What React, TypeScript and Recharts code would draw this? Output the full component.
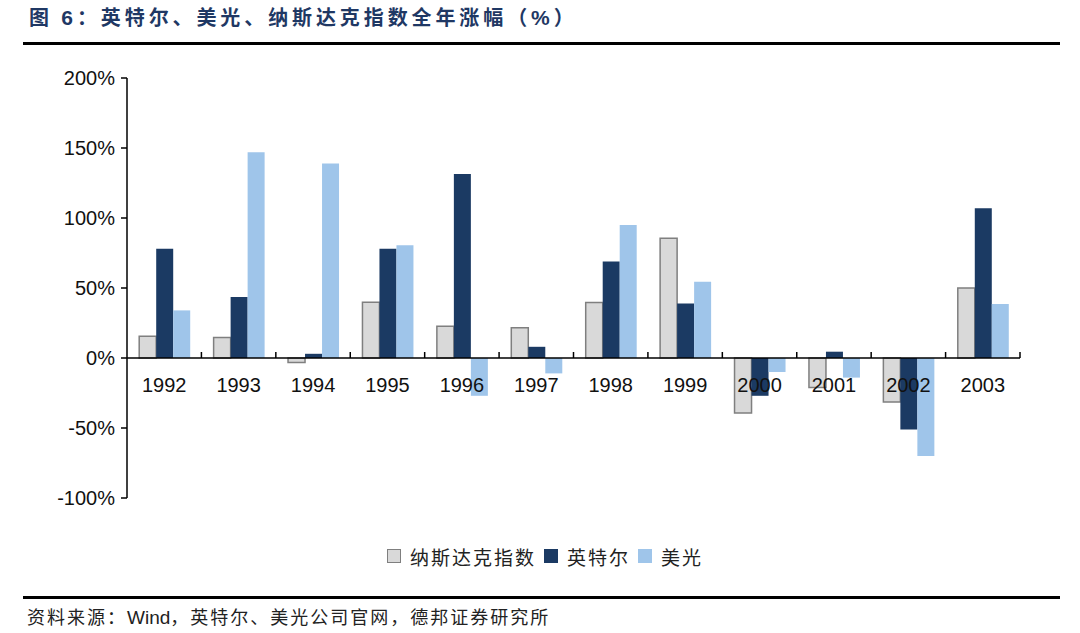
import React from 'react';
import { BarChart, Bar, XAxis, YAxis, ReferenceLine } from 'recharts';

const years = ['1992', '1993', '1994', '1995', '1996', '1997', '1998', '1999', '2000', '2001', '2002', '2003'];
const nasdaq = [15.5, 14.7, -3.2, 39.9, 22.7, 21.6, 39.6, 85.6, -39.3, -21.1, -31.5, 50.0];
const intel = [78, 43.5, 3, 78, 131.5, 8, 69, 39, -27, 4.5, -51, 107];
const micron = [34, 147, 139, 80.5, -27, -11, 95, 54.5, -10, -14, -70, 38.5];
const seriesNames = ['纳斯达克指数', '英特尔', '美光'];
const yTicks = [-100, -50, 0, 50, 100, 150, 200];

const data = years.map((y, i) => ({ year: y, nasdaq: nasdaq[i], intel: intel[i], micron: micron[i] }));

const NAVY = '#1b3a63';
const LIGHT = '#9fc5ea';
const GRAY = '#d9d9d9';
const GRAY_STROKE = '#7f7f7f';
const AX_FONT = 'Arial, "Liberation Sans", sans-serif';
const CJK_FONT = '"Noto Sans CJK SC", sans-serif';

const ZeroAxis = (props: any) => {
  const vb = props.viewBox || {};
  const x0 = vb.x ?? 0;
  const y0 = vb.y ?? 0;
  const w = vb.width ?? 0;
  const n = years.length;
  const step = w / n;
  return (
    <g>
      {years.map((yr, k) => (
        <line key={'t' + k} x1={x0 + (k + 1) * step} x2={x0 + (k + 1) * step} y1={y0} y2={y0 - 6} stroke="#000" strokeWidth={1.5} />
      ))}
      {years.map((yr, k) => (
        <text key={'l' + k} x={x0 + (k + 0.5) * step} y={y0 + 34} textAnchor="middle" fontSize={20} fontFamily={AX_FONT} fill="#111">
          {yr}
        </text>
      ))}
    </g>
  );
};

const colors = [GRAY, NAVY, LIGHT];

export default function App() {
  return (
    <div style={{ position: 'absolute', left: 0, top: 0, width: 1080, height: 633, background: '#fff', overflow: 'hidden' }}>
      <div
        style={{
          position: 'absolute', left: 29, top: 3, fontFamily: CJK_FONT, fontWeight: 700, fontSize: 20,
          letterSpacing: 3.9, color: '#1f3864', whiteSpace: 'nowrap', lineHeight: '28px',
        }}
      >
        图 <span style={{ fontFamily: AX_FONT, fontSize: 21 }}>6</span>：英特尔、美光、纳斯达克指数全年涨幅（<span style={{ fontFamily: AX_FONT, fontSize: 21 }}>%</span>）
      </div>
      <div style={{ position: 'absolute', left: 23, top: 42, width: 1037, height: 2.5, background: '#000' }} />
      <div style={{ position: 'absolute', left: 0, top: 0 }}>
        <BarChart
          width={1080}
          height={633}
          data={data}
          margin={{ top: 78, right: 60, bottom: 135, left: 67 }}
          barCategoryGap="16.4%"
          barGap={0}
        >
          <XAxis dataKey="year" hide />
          <YAxis
            width={60}
            domain={[-100, 200]}
            ticks={yTicks}
            interval={0}
            tickFormatter={(v: number) => `${v}%`}
            tickSize={6}
            tickMargin={6}
            axisLine={{ stroke: '#000', strokeWidth: 1.5 }}
            tickLine={{ stroke: '#000', strokeWidth: 1.5 }}
            tick={{ fill: '#111', fontSize: 20, fontFamily: AX_FONT }}
          />
          <Bar dataKey="nasdaq" fill={GRAY} stroke={GRAY_STROKE} strokeWidth={1.5} isAnimationActive={false} />
          <Bar dataKey="intel" fill={NAVY} isAnimationActive={false} />
          <Bar dataKey="micron" fill={LIGHT} isAnimationActive={false} />
          <ReferenceLine y={0} stroke="#000" strokeWidth={1.5} label={<ZeroAxis />} />
        </BarChart>
      </div>
      <div
        style={{
          position: 'absolute', left: 387, top: 543, display: 'flex', alignItems: 'center',
          fontFamily: CJK_FONT, fontSize: 19, letterSpacing: 2, color: '#222', whiteSpace: 'nowrap', height: 26,
        }}
      >
        {seriesNames.map((name, i) => (
          <div key={name} style={{ display: 'flex', alignItems: 'center', marginRight: 8 }}>
            <div
              style={{
                width: i === 0 ? 12 : 14, height: i === 0 ? 12 : 14, background: colors[i],
                border: i === 0 ? `1.5px solid ${GRAY_STROKE}` : 'none', marginRight: 9,
              }}
            />
            <span>{name}</span>
          </div>
        ))}
      </div>
      <div style={{ position: 'absolute', left: 23, top: 596, width: 1037, height: 2.5, background: '#000' }} />
      <div
        style={{
          position: 'absolute', left: 27, top: 603, fontFamily: CJK_FONT, fontSize: 18, letterSpacing: 2.0,
          color: '#222', whiteSpace: 'nowrap', lineHeight: '26px',
        }}
      >
        资料来源：<span style={{ fontFamily: AX_FONT, fontSize: 19, letterSpacing: 0 }}>Wind</span>，英特尔、美光公司官网，德邦证券研究所
      </div>
    </div>
  );
}
